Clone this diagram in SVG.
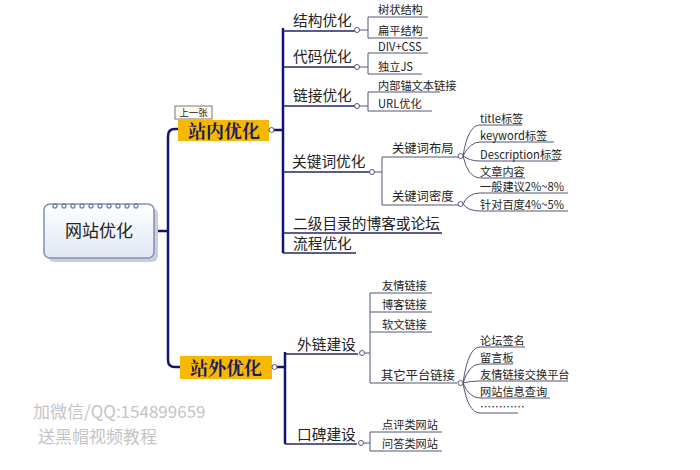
<svg xmlns="http://www.w3.org/2000/svg" width="700" height="470" viewBox="0 0 700 470">
<defs>
<linearGradient id="rootg" x1="0" y1="0" x2="0" y2="1">
<stop offset="0" stop-color="#ffffff"/>
<stop offset="1" stop-color="#dfe8f5"/>
</linearGradient>
<style>
text{font-family:"Noto Sans CJK SC","Liberation Sans",sans-serif;fill:#222;}
.t2{font-size:14.7px;}
.t3{font-size:11.2px;}
.tm{font-size:12.3px;}
.main{font-size:18px;font-weight:bold;fill:#1c1c64;font-family:"Noto Serif CJK SC","Noto Sans CJK SC",serif;}
.l1{fill:none;stroke:#141470;stroke-width:2.5;}
.l2{fill:none;stroke:#26266e;stroke-width:1.6;}
.l3{fill:none;stroke:#55557a;stroke-width:1;}
.dot{fill:#fff;stroke:#55557a;stroke-width:1;}
.wm{font-size:17px;fill:#c4c4c4;}
</style>
</defs>
<rect width="700" height="470" fill="#ffffff"/>

<g id="connectors">
<path class="l1" d="M155 231 H168 M168 136 Q168 129 175 129 H178 M168 136 V360 Q168 367 175 367 H180"/>
<path class="l1" d="M274 130 H283 M283 28 V253"/>
<path class="l2" d="M283 31 H355 M283 67 H355 M283 106 H355 M283 172 H370 M283 233 H442 M283 253 H356"/>
<path class="l3" d="M359 30 H368 M368 17 V38 M368 17 H428 M368 38 H428"/>
<path class="l3" d="M359 67 H368 M368 53 V74 M368 53 H428 M368 74 H422"/>
<path class="l3" d="M359 106 H368 M368 92 V111 M368 92 H440 M368 111 H432"/>
<path class="l3" d="M374 172 H382 M382 157 V205 M382 157 H458 M382 205 H458"/>
<path class="l3" d="M463 156 Q468 125 480 125 H522 M463 156 Q470 142 480 142 H554 M463 156 Q470 161 480 161 H558 M463 156 Q468 178 480 178 H525"/>
<path class="l3" d="M463 204 Q468 193 480 193 H568 M463 204 Q468 211 480 211 H568"/>
<path class="l1" d="M277 367 H285 M285 352 V444"/>
<path class="l2" d="M285 354 H358 M285 444 H357"/>
<path class="l3" d="M365 353 H370 M370 293 V383 M370 293 H432 M370 312 H432 M370 332 H432 M370 383 H457"/>
<path class="l3" d="M463 383 Q468 347 480 347 H525 M463 383 Q469 364 480 364 H513 M463 383 Q470 381 480 381 H568 M463 383 Q469 398 480 398 H550 M463 383 Q468 413 480 413 H518"/>
<path class="l3" d="M364 443 H370 M370 432 V451 M370 432 H442 M370 451 H442"/>
</g>

<g id="root">
<rect x="48" y="208" width="110" height="54" rx="6" fill="#c8cfdc"/>
<rect x="44" y="204" width="110" height="54" rx="6" fill="url(#rootg)" stroke="#8090b8" stroke-width="1.5"/>
<g fill="none" stroke="#7085b5" stroke-width="1.3">
<circle cx="55" cy="206" r="2"/><circle cx="64" cy="206" r="2"/><circle cx="73" cy="206" r="2"/><circle cx="82" cy="206" r="2"/><circle cx="91" cy="206" r="2"/><circle cx="100" cy="206" r="2"/><circle cx="109" cy="206" r="2"/><circle cx="118" cy="206" r="2"/><circle cx="127" cy="206" r="2"/><circle cx="136" cy="206" r="2"/>
</g>
<text x="99" y="237" font-size="17" text-anchor="middle">网站优化</text>
</g>

<g id="zhannei">
<rect x="178" y="120" width="91" height="21" fill="#f6b800"/>
<text class="main" x="224" y="137.5" text-anchor="middle">站内优化</text>
<circle class="dot" cx="271.5" cy="130" r="2.5"/>
<rect x="175" y="106" width="37" height="13" fill="#fffef5" stroke="#555" stroke-width="0.8"/>
<text x="193.5" y="115.5" font-size="9.5" text-anchor="middle">上一张</text>
</g>

<g id="jiegou">
<text class="t2" x="293" y="26">结构优化</text>
<circle class="dot" cx="357" cy="30" r="2.5"/>
<text class="t3" x="378" y="14">树状结构</text>
<text class="t3" x="378" y="35">扁平结构</text>
</g>

<g id="daima">
<text class="t2" x="293" y="62">代码优化</text>
<circle class="dot" cx="357" cy="67" r="2.5"/>
<text class="t3" x="378" y="51">DIV+CSS</text>
<text class="t3" x="378" y="71">独立JS</text>
</g>

<g id="lianjie">
<text class="t2" x="293" y="101">链接优化</text>
<circle class="dot" cx="357" cy="106" r="2.5"/>
<text class="t3" x="378" y="90">内部锚文本链接</text>
<text class="t3" x="378" y="108">URL优化</text>
</g>

<g id="guanjianci">
<text class="t2" x="292" y="167">关键词优化</text>
<circle class="dot" cx="372" cy="172" r="2.5"/>
<text class="tm" x="392" y="153">关键词布局</text>
<circle class="dot" cx="460.5" cy="156" r="2.5"/>
<text class="tm" x="392" y="201">关键词密度</text>
<circle class="dot" cx="460.5" cy="204" r="2.5"/>
<text class="t3" x="480" y="123">title标签</text>
<text class="t3" x="480" y="140">keyword标签</text>
<text class="t3" x="480" y="159">Description标签</text>
<text class="t3" x="480" y="175.5">文章内容</text>
<text class="t3" x="480" y="191">一般建议2%~8%</text>
<text class="t3" x="480" y="209">针对百度4%~5%</text>
</g>

<g id="erji">
<text class="t2" x="293" y="229">二级目录的博客或论坛</text>
</g>

<g id="liucheng">
<text class="t2" x="293" y="249">流程优化</text>
</g>

<g id="zhanwai">
<rect x="180" y="356" width="92" height="23" fill="#f6b800"/>
<text class="main" x="226" y="374.5" text-anchor="middle">站外优化</text>
<circle class="dot" cx="274.5" cy="367" r="2.5"/>
</g>

<g id="wailian">
<text class="t2" x="297" y="350">外链建设</text>
<circle class="dot" cx="362" cy="353" r="2.5"/>
<text class="t3" x="382" y="290">友情链接</text>
<text class="t3" x="382" y="309">博客链接</text>
<text class="t3" x="382" y="329">软文链接</text>
<text class="tm" x="381" y="380">其它平台链接</text>
<circle class="dot" cx="460.5" cy="383" r="2.5"/>
<text class="t3" x="480" y="345">论坛签名</text>
<text class="t3" x="480" y="362">留言板</text>
<text class="t3" x="480" y="379">友情链接交换平台</text>
<text class="t3" x="480" y="396">网站信息查询</text>
<text class="t3" x="480" y="411">…………</text>
</g>

<g id="koubei">
<text class="t2" x="297" y="440">口碑建设</text>
<circle class="dot" cx="361" cy="443" r="2.5"/>
<text class="t3" x="382" y="429">点评类网站</text>
<text class="t3" x="382" y="448">问答类网站</text>
</g>

<g id="watermark">
<text class="wm" x="33" y="418">加微信/QQ:154899659</text>
<text class="wm" x="38" y="443">送黑帽视频教程</text>
</g>
</svg>
